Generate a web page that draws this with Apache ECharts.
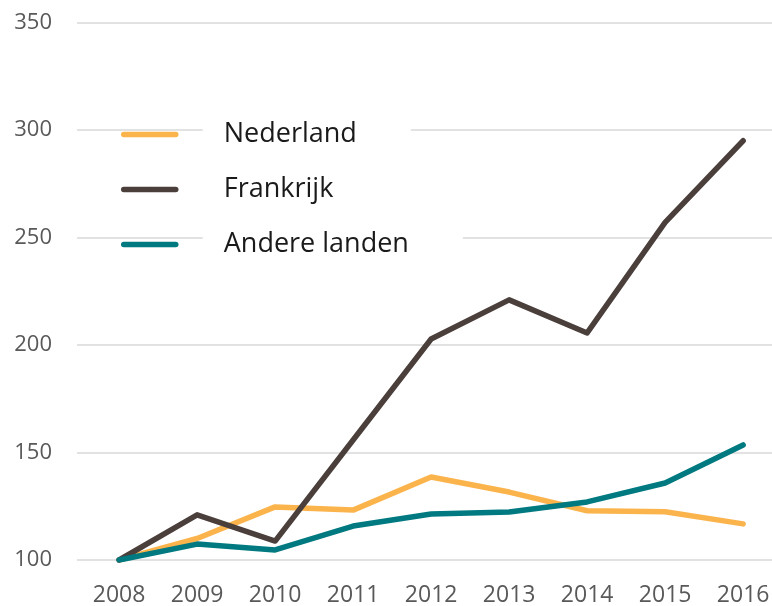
<!DOCTYPE html>
<html lang="nl">
<head>
<meta charset="UTF-8">
<title>Nederland, Frankrijk, Andere landen</title>
<script src="https://cdn.jsdelivr.net/npm/echarts@6/dist/echarts.min.js"></script>
<style>
    html, body { margin: 0; padding: 0; background: #fff; }
    #chart { width: 772px; height: 606px; }
</style>
</head>
<body>

<div id="chart"></div>

<script>
// data (index, 2008 = 100)
var years = [2008, 2009, 2010, 2011, 2012, 2013, 2014, 2015, 2016];
var nederland = [100, 110, 124.7, 123.2, 138.6, 131.6, 122.9, 122.4, 116.8];
var frankrijk = [100, 121, 108.8, 155.8, 202.8, 221, 205.6, 257, 295];
var andereLanden = [100, 107.4, 104.7, 115.8, 121.4, 122.3, 127, 135.8, 153.5];
var yTicks = [100, 150, 200, 250, 300, 350];

var chartDom = document.getElementById('chart');
var myChart = echarts.init(chartDom);

function pairs(values) {
    return years.map(function (y, i) { return [y, values[i]]; });
}

function makeSeries(name, values, color) {
    return {
        name: name,
        type: 'line',
        data: pairs(values),
        symbol: 'none',
        lineStyle: { color: color, width: 5.5, cap: 'round', join: 'round' },
        itemStyle: { color: color }
    };
}

var option = {
    animation: false,
    textStyle: { fontFamily: 'Open Sans' },
    grid: { left: 77, right: 0, top: 22.5, bottom: 46, outerBoundsMode: 'none' },
    legend: {
        orient: 'vertical',
        left: 116,
        top: 112,
        itemWidth: 52,
        itemHeight: 5,
        itemGap: 20,
        lineStyle: { width: 5.5, cap: 'round' },
        formatter: function (name) { return '{g|}{t|' + name + '}'; },
        textStyle: {
            color: '#1a1a1a',
            fontSize: 27,
            rich: {
                g: { width: 22 },
                t: {
                    fontSize: 27,
                    color: '#1a1a1a',
                    backgroundColor: '#fff',
                    padding: [4, 54, 4, 21],
                    lineHeight: 32
                }
            }
        },
        data: ['Nederland', 'Frankrijk', 'Andere landen']
    },
    xAxis: {
        type: 'value',
        min: 2007.46,
        max: 2016.37,
        axisLine: { show: false },
        axisTick: { show: false },
        splitLine: { show: false },
        axisLabel: {
            customValues: years,
            formatter: function (v) { return String(v); },
            color: '#595959',
            fontSize: 23,
            margin: 24
        }
    },
    yAxis: {
        type: 'value',
        min: 100,
        max: 350,
        interval: 50,
        axisLine: { show: false },
        axisTick: { show: false },
        axisLabel: {
            color: '#595959',
            fontSize: 22,
            margin: 25,
            customValues: yTicks
        },
        splitLine: { lineStyle: { color: '#d9d9d9', width: 1.5 } }
    },
    series: [
        makeSeries('Nederland', nederland, '#fbb44c'),
        makeSeries('Frankrijk', frankrijk, '#4a3f3b'),
        makeSeries('Andere landen', andereLanden, '#007a80')
    ]
};

myChart.setOption(option);
</script>

</body>
</html>
